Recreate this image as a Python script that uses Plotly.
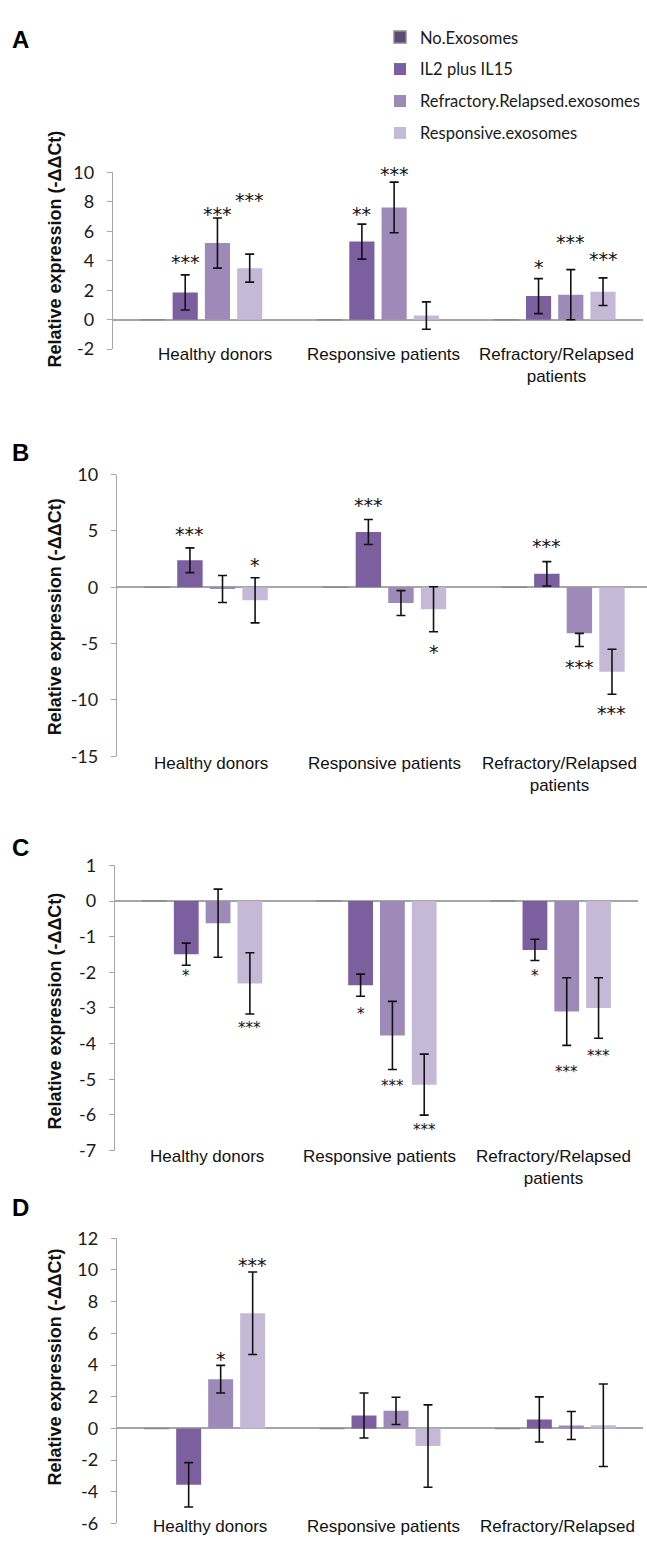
import plotly.graph_objects as go

W, H = 647, 1547

categories = ["Healthy donors", "Responsive patients", "Refractory/Relapsed<br>patients"]
categories_d = ["Healthy donors", "Responsive patients", "Refractory/Relapsed"]
series_names = ["No.Exosomes", "IL2 plus IL15", "Refractory.Relapsed.exosomes", "Responsive.exosomes"]
colors = ["#5F497A", "#7C5F9E", "#9E8AB9", "#C5B9D7"]

# y tick values / labels per panel
a_ticks = [-2, 0, 2, 4, 6, 8, 10]
a_ticktext = ["-2", "0", "2", "4", "6", "8", "10"]
b_ticks = [-15, -10, -5, 0, 5, 10]
b_ticktext = ["-15", "-10", "-5", "0", "5", "10"]
c_ticks = [-7, -6, -5, -4, -3, -2, -1, 0, 1]
c_ticktext = ["-7", "-6", "-5", "-4", "-3", "-2", "-1", "0", "1"]
d_ticks = [-6, -4, -2, 0, 2, 4, 6, 8, 10, 12]
d_ticktext = ["-6", "-4", "-2", "0", "2", "4", "6", "8", "10", "12"]

# Panel A
a_noexo = [0, 0, 0]
a_il2 = [1.85, 5.3, 1.6]
a_il2_err = [1.19, 1.19, 1.19]
a_rr = [5.2, 7.62, 1.7]
a_rr_err = [1.7, 1.72, 1.7]
a_resp = [3.5, 0.28, 1.9]
a_resp_err = [0.95, 0.93, 0.94]
a_stars = [(0, 1, 4.1, "***"), (0, 2, 7.4, "***"), (0, 3, 8.3, "***"),
           (1, 1, 7.4, "**"), (1, 2, 10.1, "***"),
           (2, 1, 3.8, "*"), (2, 2, 5.5, "***"), (2, 3, 4.3, "***")]

# Panel B
b_noexo = [0, 0, 0]
b_il2 = [2.4, 4.91, 1.2]
b_il2_err = [1.1, 1.11, 1.08]
b_rr = [-0.15, -1.4, -4.09]
b_rr_err_plus = [1.2, 1.1, 0.0]
b_rr_err_minus = [1.2, 1.1, 1.17]
b_resp = [-1.16, -1.95, -7.5]
b_resp_err = [2.0, 2.0, 2.0]
b_stars = [(0, 1, 4.97, "***"), (0, 3, 2.2, "*"),
           (1, 1, 7.6, "***"), (1, 3, -5.47, "*"),
           (2, 1, 3.9, "***"), (2, 2, -6.8, "***"), (2, 3, -10.9, "***")]

# Panel C
c_noexo = [0, 0, 0]
c_il2 = [-1.49, -2.36, -1.37]
c_il2_err = [0.31, 0.31, 0.3]
c_rr = [-0.62, -3.77, -3.1]
c_rr_err = [0.955, 0.955, 0.95]
c_resp = [-2.31, -5.15, -3.0]
c_resp_err = [0.86, 0.855, 0.85]
c_stars = [(0, 1, -2.03, "*"), (0, 3, -3.48, "***"),
           (1, 1, -3.08, "*"), (1, 2, -5.1, "***"), (1, 3, -6.35, "***"),
           (2, 1, -2.02, "*"), (2, 2, -4.71, "***"), (2, 3, -4.27, "***")]

# Panel D
d_noexo = [0, 0, 0]
d_il2 = [-3.555, 0.82, 0.565]
d_il2_err = [1.4, 1.42, 1.425]
d_rr = [3.11, 1.11, 0.185]
d_rr_err = [0.87, 0.86, 0.885]
d_resp = [7.27, -1.115, 0.2]
d_resp_err = [2.6, 2.6, 2.6]
d_stars = [(0, 2, 4.6, "*"), (0, 3, 10.5, "***")]

# ---------- layout geometry (pixels) ----------
panels = [
    dict(letter="A", x0=113, x1=643, ytop=162.7, ybot=342, rng=[-2, 10], ticks=(a_ticks, a_ticktext),
         letter_y=28, title_y=241, lab_y=345, lab_shift=[14, 5, 2], star_size=19, cats=categories,
         data=(a_noexo, a_il2, a_il2_err, a_il2_err, a_rr, a_rr_err, a_rr_err, a_resp, a_resp_err, a_resp_err),
         stars=a_stars, xr=[-0.5, 2.5]),
    dict(letter="B", x0=117, x1=647, ytop=469.3, ybot=755, rng=[-15, 10], ticks=(b_ticks, b_ticktext),
         letter_y=447, title_y=614, lab_y=760, lab_shift=[5, 0, -4], star_size=19, cats=categories,
         data=(b_noexo, b_il2, b_il2_err, b_il2_err, b_rr, b_rr_err_plus, b_rr_err_minus, b_resp, b_resp_err, b_resp_err),
         stars=b_stars, xr=[-0.5, 2.47]),
    dict(letter="C", x0=115, x1=638, ytop=865.7, ybot=1155, rng=[-7, 1], ticks=(c_ticks, c_ticktext),
         letter_y=848, title_y=1014, lab_y=1158, lab_shift=[5, 3, 3], star_size=15, cats=categories,
         data=(c_noexo, c_il2, c_il2_err, c_il2_err, c_rr, c_rr_err, c_rr_err, c_resp, c_resp_err, c_resp_err),
         stars=c_stars, xr=[-0.5, 2.5]),
    dict(letter="D", x0=117, x1=643, ytop=1244, ybot=1533.3, rng=[-6, 12], ticks=(d_ticks, d_ticktext),
         letter_y=1213, title_y=1375, lab_y=1534, lab_shift=[5, 3, 2], star_size=19, cats=categories_d,
         data=(d_noexo, d_il2, d_il2_err, d_il2_err, d_rr, d_rr_err, d_rr_err, d_resp, d_resp_err, d_resp_err),
         stars=d_stars, xr=[-0.5, 2.5]),
]

BARGAP = 0.27
SLOT = (1 - BARGAP) / 4

fig = go.Figure()
annotations = []
layout_axes = {}

for i, p in enumerate(panels):
    n = "" if i == 0 else str(i + 1)
    xa, ya = "x" + n, "y" + n
    noexo, il2, il2p, il2m, rr, rrp, rrm, resp, respp, respm = p["data"]
    vals = [noexo, il2, rr, resp]
    errs = [None, (il2p, il2m), (rrp, rrm), (respp, respm)]
    for s in range(4):
        kw = {}
        if errs[s] is not None:
            kw["error_y"] = dict(type="data", symmetric=False, array=errs[s][0], arrayminus=errs[s][1],
                                 color="#111111", thickness=1.6, width=4.5)
        line = dict(width=1.5, color="#8a8a8a") if s == 0 else dict(width=0)
        fig.add_trace(go.Bar(
            x=[0, 1, 2], y=vals[s], name=series_names[s], marker=dict(color=colors[s], line=line),
            xaxis=xa, yaxis=ya, showlegend=(i == 0), legendgroup=series_names[s], **kw))

    layout_axes["xaxis" + n] = dict(
        domain=[p["x0"] / W, p["x1"] / W], anchor=ya, range=p["xr"], showticklabels=False,
        showgrid=False, zeroline=False, showline=False, ticks="", fixedrange=True)
    layout_axes["yaxis" + n] = dict(
        domain=[1 - p["ybot"] / H, 1 - p["ytop"] / H], anchor=xa, range=p["rng"],
        tickmode="array", tickvals=p["ticks"][0], ticktext=p["ticks"][1],
        showgrid=False, zeroline=True, zerolinecolor="#a6a6a6", zerolinewidth=1.5,
        showline=True, linecolor="#a6a6a6", linewidth=1.3, ticks="outside", ticklen=5,
        tickcolor="#a6a6a6", tickwidth=1.3, ticklabelstandoff=9,
        tickfont=dict(family="Lato", size=18, color="#1a1a1a"))

    px_per_unit = (p["ybot"] - p["ytop"]) / (p["rng"][1] - p["rng"][0])

    # category labels
    for c, lab in enumerate(p["cats"]):
        annotations.append(dict(
            x=c, y=1 - p["lab_y"] / H, xref=xa, yref="paper", text=lab, showarrow=False,
            xanchor="center", yanchor="top", yshift=9, xshift=p["lab_shift"][c],
            font=dict(family="Liberation Sans, Arial", size=17, color="#111111")))
    # y title
    annotations.append(dict(
        x=55 / W, y=1 - p["title_y"] / H, xref="paper", yref="paper",
        text="<b>Relative expression (-ΔΔCt)</b>", textangle=-90, showarrow=False,
        xanchor="center", yanchor="middle",
        font=dict(family="Liberation Sans, Arial", size=18, color="#111111")))
    # panel letter
    annotations.append(dict(
        x=10 / W, y=1 - p["letter_y"] / H, xref="paper", yref="paper", text="<b>%s</b>" % p["letter"],
        showarrow=False, xanchor="left", yanchor="middle",
        font=dict(family="Liberation Sans, Arial", size=24, color="#000000")))
    # significance stars (kept inside the axis range, shifted in pixels if above it)
    for (c, s, yv, txt) in p["stars"]:
        yin = min(max(yv, p["rng"][0]), p["rng"][1])
        extra = (yv - yin) * px_per_unit
        annotations.append(dict(
            x=c + (s - 1.5) * SLOT, y=yin, xref=xa, yref=ya, text=txt, showarrow=False,
            xanchor="center", yanchor="middle", yshift=-3 + extra,
            font=dict(family="DejaVu Sans", size=p["star_size"], color="#111111")))

fig.update_layout(
    width=W, height=H, margin=dict(l=0, r=0, t=0, b=0),
    paper_bgcolor="white", plot_bgcolor="white",
    barmode="group", bargap=BARGAP, bargroupgap=0.22,
    showlegend=True,
    legend=dict(x=380 / W, y=1 - 8 / H, xanchor="left", yanchor="top", tracegroupgap=7.5,
                font=dict(family="Lato", size=16.5, color="#1a1a1a"), bgcolor="rgba(0,0,0,0)",
                traceorder="grouped"),
    annotations=annotations,
    **layout_axes)

fig.write_html("out.html")
